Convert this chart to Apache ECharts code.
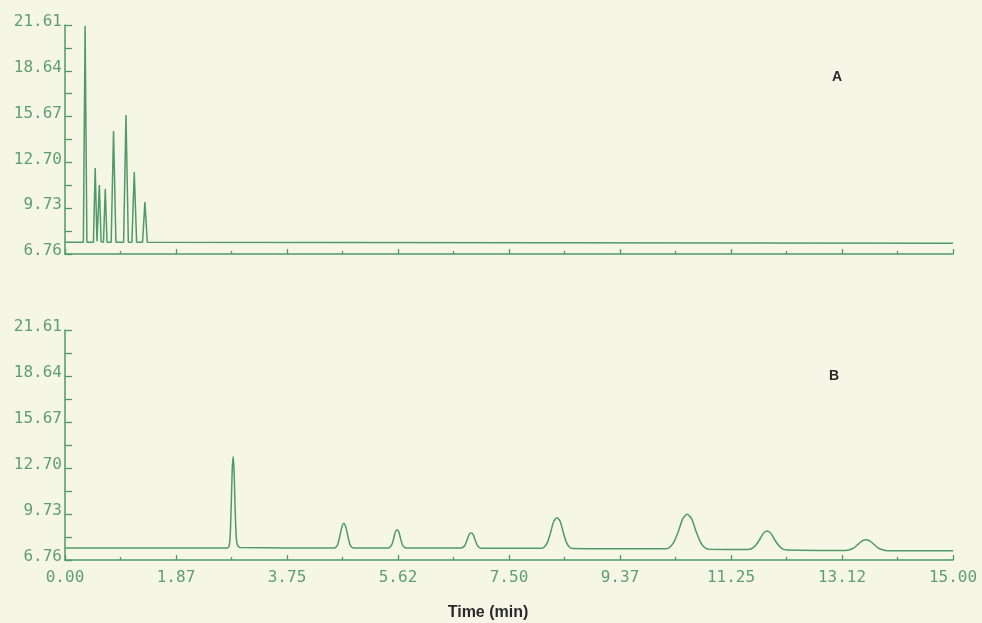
<!DOCTYPE html>
<html>
<head>
<meta charset="utf-8">
<script src="https://cdn.jsdelivr.net/npm/echarts@6/dist/echarts.min.js"></script>
<style>
  html, body { margin: 0; padding: 0; background: #f5f6e6; }
  #chart { width: 982px; height: 623px; }
</style>
</head>
<body>
<div id="chart"></div>
<script>
// y ticks (labelled) and the in-between minor ticks
const yLabelValues = [6.76, 9.73, 12.70, 15.67, 18.64, 21.61];
const yMinorValues = [8.245, 11.215, 14.185, 17.155, 20.125];
const xTickLabels = ["0.00", "1.87", "3.75", "5.62", "7.50", "9.37", "11.25", "13.12", "15.00"];

// trace A: [time (min), signal]
const traceA = [
  [0, 7.52],
  [0.31, 7.52], [0.34, 21.55], [0.37, 7.52],
  [0.48, 7.52], [0.51, 12.34], [0.54, 7.58],
  [0.55, 7.56], [0.58, 11.23], [0.61, 7.55],
  [0.65, 7.52], [0.68, 10.98], [0.71, 7.52],
  [0.78, 7.52], [0.82, 14.74], [0.86, 7.52],
  [0.99, 7.52], [1.03, 15.77], [1.07, 7.52],
  [1.13, 7.52], [1.17, 12.08], [1.21, 7.52],
  [1.31, 7.52], [1.35, 10.13], [1.39, 7.52],
  [15, 7.46]
];

// trace B: [time (min), signal]
const traceB = [
  [0, 7.54],
  [2.74, 7.54], [2.77, 7.64], [2.79, 8.30], [2.81, 10.6], [2.825, 12.6], [2.84, 13.42],
  [2.855, 12.6], [2.87, 10.6], [2.89, 8.4], [2.91, 7.75], [2.96, 7.56],
  [4.55, 7.54], [4.58, 7.6], [4.61, 7.8], [4.645, 8.36], [4.68, 8.93], [4.71, 9.13],
  [4.74, 8.93], [4.775, 8.36], [4.81, 7.8], [4.84, 7.6], [4.88, 7.54],
  [5.46, 7.54], [5.49, 7.59], [5.52, 7.74], [5.55, 8.12], [5.58, 8.57], [5.61, 8.71],
  [5.64, 8.57], [5.67, 8.12], [5.70, 7.74], [5.73, 7.59], [5.77, 7.54],
  [6.69, 7.53], [6.72, 7.57], [6.755, 7.7], [6.79, 8.03], [6.825, 8.4], [6.86, 8.51],
  [6.895, 8.4], [6.93, 8.03], [6.965, 7.7], [7.0, 7.56], [7.04, 7.52],
  [8.05, 7.52], [8.10, 7.62], [8.15, 7.9], [8.20, 8.5], [8.255, 9.25], [8.31, 9.49],
  [8.365, 9.25], [8.42, 8.5], [8.47, 7.9], [8.52, 7.6], [8.58, 7.51],
  [10.15, 7.48], [10.22, 7.6], [10.29, 7.95], [10.36, 8.6], [10.435, 9.42], [10.51, 9.71],
  [10.585, 9.42], [10.66, 8.6], [10.73, 7.95], [10.80, 7.58], [10.88, 7.45],
  [11.53, 7.44], [11.60, 7.5], [11.66, 7.68], [11.73, 8.05], [11.795, 8.48], [11.86, 8.64],
  [11.925, 8.48], [11.99, 8.05], [12.06, 7.68], [12.12, 7.48], [12.20, 7.41],
  [13.18, 7.38], [13.25, 7.42], [13.32, 7.53], [13.39, 7.75], [13.46, 7.98], [13.53, 8.06],
  [13.60, 7.98], [13.67, 7.75], [13.74, 7.53], [13.81, 7.42], [13.89, 7.36],
  [15, 7.35]
];

const green = "#4f9a66";
const labelGreen = "#5f9e70";
const monoFont = "DejaVu Sans Mono";

const chart = echarts.init(document.getElementById("chart"), null, { renderer: "canvas" });

function yAxis(gridIndex) {
  return {
    type: "value",
    gridIndex: gridIndex,
    min: 6.76,
    max: 21.61,
    axisLine: { show: true, lineStyle: { color: green, width: 1.5 } },
    axisTick: {
      show: true,
      inside: true,
      length: 7,
      customValues: yLabelValues.concat(yMinorValues),
      lineStyle: { color: green, width: 1.3 }
    },
    axisLabel: {
      customValues: yLabelValues,
      formatter: (v) => v.toFixed(2),
      color: labelGreen,
      fontFamily: monoFont,
      fontSize: 16,
      margin: 3,
      verticalAlign: "bottom",
      lineHeight: 6
    },
    splitLine: { show: false }
  };
}

function xAxis(gridIndex, showLabels) {
  return {
    type: "value",
    gridIndex: gridIndex,
    min: 0,
    max: 15,
    interval: 1.875,
    axisLine: { show: true, onZero: false, lineStyle: { color: green, width: 1.5 } },
    axisTick: { show: true, inside: true, length: 5, lineStyle: { color: green, width: 1.3 } },
    minorTick: { show: true, splitNumber: 2, length: 3, lineStyle: { color: green, width: 1.3 } },
    axisLabel: {
      show: showLabels,
      formatter: (v) => xTickLabels[Math.round(v / 1.875)],
      color: labelGreen,
      fontFamily: monoFont,
      fontSize: 16,
      margin: 10
    },
    splitLine: { show: false }
  };
}

chart.setOption({
  backgroundColor: "#f5f6e6",
  animation: false,
  grid: [
    { left: 65, top: 25, width: 888, height: 229 },
    { left: 65, top: 330, width: 888, height: 230 }
  ],
  xAxis: [xAxis(0, false), xAxis(1, true)],
  yAxis: [yAxis(0), yAxis(1)],
  graphic: [
    { type: "text", x: 837, y: 77, style: { text: "A", fill: "#2a2a2a", font: "bold 14px Liberation Sans", textAlign: "center", textVerticalAlign: "middle" } },
    { type: "text", x: 834, y: 376, style: { text: "B", fill: "#2a2a2a", font: "bold 14px Liberation Sans", textAlign: "center", textVerticalAlign: "middle" } },
    { type: "text", x: 488, y: 613, style: { text: "Time (min)", fill: "#2a2a2a", font: "bold 16px Liberation Sans", textAlign: "center", textVerticalAlign: "middle" } }
  ],
  series: [
    {
      name: "A",
      type: "line",
      xAxisIndex: 0,
      yAxisIndex: 0,
      data: traceA,
      showSymbol: false,
      lineStyle: { color: green, width: 1.5 }
    },
    {
      name: "B",
      type: "line",
      xAxisIndex: 1,
      yAxisIndex: 1,
      data: traceB,
      smooth: 0.25,
      showSymbol: false,
      lineStyle: { color: green, width: 1.5 }
    }
  ]
});

window.addEventListener("resize", () => chart.resize());
</script>
</body>
</html>
